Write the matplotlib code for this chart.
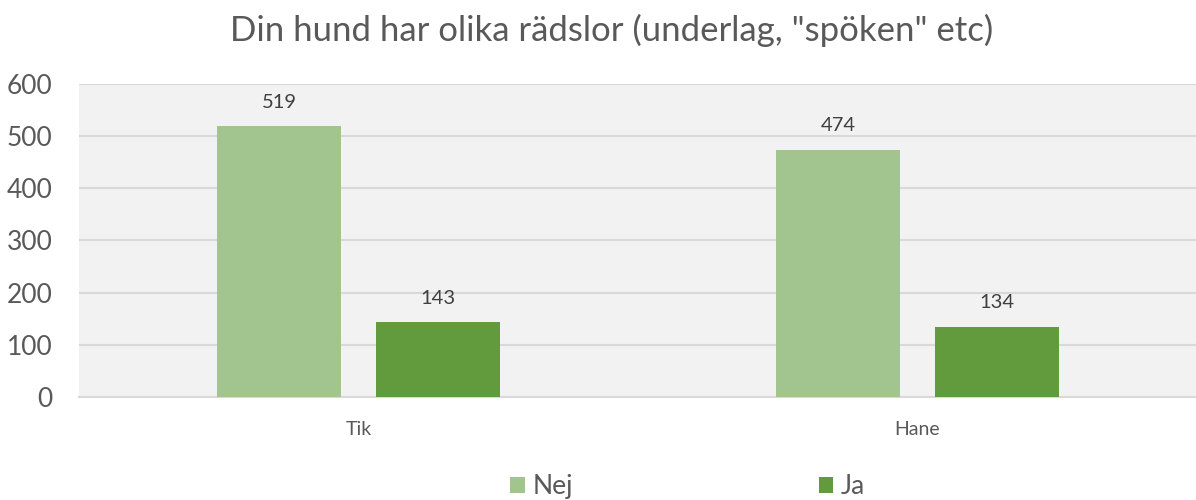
import matplotlib.pyplot as plt
import numpy as np

plt.rcParams['font.family'] = ['Lato', 'DejaVu Sans']

categories = ['Tik', 'Hane']
series = ['Nej', 'Ja']
nej = [519, 474]
ja = [143, 134]
colors = ['#A2C48F', '#629A3E']

fig = plt.figure(figsize=(11.96, 5.0), dpi=100)
ax = fig.add_axes([79 / 1196, 103 / 500, 1118 / 1196, 313 / 500])
ax.set_facecolor('#F2F2F2')

x = np.arange(len(categories))
w = 0.223
off = 0.142
for vals, sign, col, name in [(nej, -1, colors[0], series[0]), (ja, 1, colors[1], series[1])]:
    bars = ax.bar(x + sign * off, vals, w, color=col, label=name, zorder=3)
    for b, v in zip(bars, vals):
        ax.text(b.get_x() + b.get_width() / 2, v + 30, str(v), ha='center', va='bottom',
                fontsize=14.5, color='#404040')

ax.set_xlim(-0.5, 1.5)
ax.set_ylim(0, 600)
ax.set_yticks(range(0, 601, 100))
ax.yaxis.grid(True, color='#D9D9D9', linewidth=1.5, zorder=0)
ax.set_axisbelow(True)
for s in ['left', 'right', 'top']:
    ax.spines[s].set_visible(False)
ax.spines['bottom'].set_color('#D9D9D9')
ax.spines['bottom'].set_linewidth(1.5)
ax.tick_params(axis='y', length=0, labelsize=19, labelcolor='#595959', pad=19)
ax.tick_params(axis='x', length=0, labelsize=14, labelcolor='#595959', pad=17)
ax.set_xticks(x)
ax.set_xticklabels(categories)

fig.text(0.511, 0.94, 'Din hund har olika rädslor (underlag, "spöken" etc)', ha='center', va='center',
         fontsize=25, color='#595959')

fig.legend(loc='center', bbox_to_anchor=(0.575, 0.027), ncol=2, frameon=False, fontsize=19,
           handlelength=0.55, handleheight=0.55, handletextpad=0.3, columnspacing=9.3,
           labelcolor='#595959')

fig.savefig('out.png', dpi=100)
